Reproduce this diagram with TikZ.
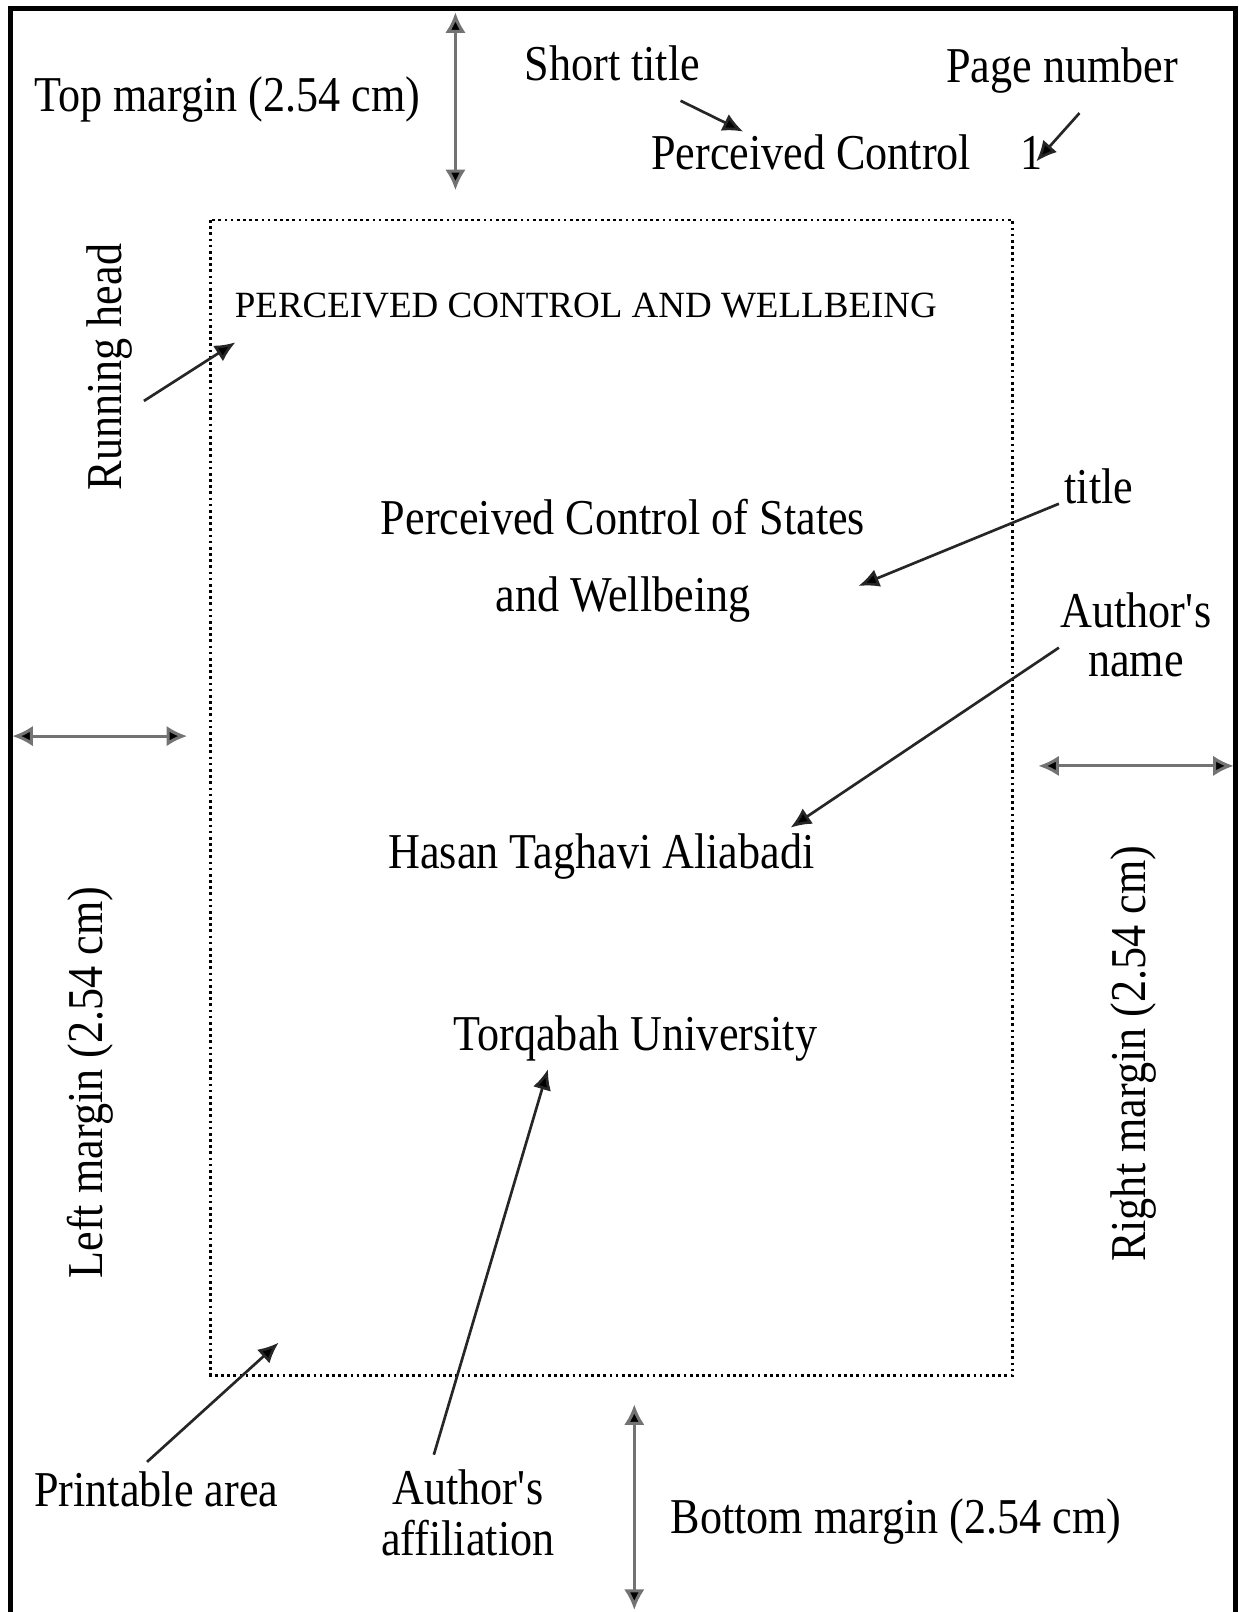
\documentclass[tikz,border=0pt]{standalone}
\usepackage{fontspec}
\setmainfont{Liberation Serif}[FakeStretch=0.88]
\newfontfamily\capsserif{Liberation Serif}
\usetikzlibrary{arrows.meta}
\begin{document}
\begin{tikzpicture}[x=0.5pt,y=-0.5pt,
  lbl/.style={font=\fontsize{24.4}{28}\selectfont, inner sep=0pt, anchor=base west},
  caps/.style={font=\capsserif\fontsize{18}{22}\selectfont, inner sep=0pt, anchor=base west},
  vlbl/.style={font=\fontsize{24.4}{28}\selectfont, inner sep=0pt, rotate=90, anchor=center},
  pointer/.style={line width=1.3pt, draw=black!85, -{Latex[length=10pt,width=9pt,fill=black]}},
  span/.style={line width=1.5pt, draw=black!55, {Latex[length=10pt,width=10pt,fill=black]}-{Latex[length=10pt,width=10pt,fill=black]}},
  frame/.style={line width=2.6pt},
  area/.style={line width=1.3pt, dash pattern=on 1.3pt off 1.7pt}]
\useasboundingbox (0,0) rectangle (1205,1568);

% page edge (open at the bottom)
\draw[frame] (10,1570) -- (10,8) -- (1202,8) -- (1202,1570);

% printable area
\draw[area] (205,214) rectangle (985,1338);

% margin labels
\node[lbl] (topm) at (33,108) {Top margin (2.54 cm)};
\node[lbl] (botm) at (652,1492) {Bottom margin (2.54 cm)};
\node[vlbl] (leftm) at (88,1053) {Left margin (2.54 cm)};
\node[vlbl] (rightm) at (1103,1025) {Right margin (2.54 cm)};

% header labels
\node[lbl] (shortlbl) at (510,78) {Short title};
\node[lbl] (pagelbl) at (920,80) {Page number};
\node[lbl] (shorttitle) at (633,165) {Perceived Control};
\node[lbl] (pagenum) at (992,165) {1};
\node[vlbl] (runlbl) at (107,357) {Running head};

% title page content
\node[caps] (runhead) at (228,309) {PERCEIVED CONTROL AND WELLBEING};
\node[lbl, anchor=base] (title1) at (606,520) {Perceived Control of States};
\node[lbl, anchor=base] (title2) at (606,595) {and Wellbeing};
\node[lbl, anchor=base] (author) at (585,845) {Hasan Taghavi Aliabadi};
\node[lbl, anchor=base] (affil) at (618,1022) {Torqabah University};

% right-hand and bottom labels
\node[lbl] (titlelbl) at (1035,490) {title};
\node[lbl, anchor=base] (authlbl1) at (1105,610) {Author\textquotesingle s};
\node[lbl, anchor=base] (authlbl2) at (1105,658) {name};
\node[lbl] (printlbl) at (33,1465) {Printable area};
\node[lbl, anchor=base] (afflbl1) at (455,1463) {Author\textquotesingle s};
\node[lbl, anchor=base] (afflbl2) at (455,1513) {affiliation};

% pointer ends
\coordinate (shortA) at (662,98);   \coordinate (shortB) at (723,128);
\coordinate (pageA) at (1050,110);  \coordinate (pageB) at (1008,157);
\coordinate (runA) at (140,390);    \coordinate (runB) at (229,333);
\coordinate (titleA) at (1030,490); \coordinate (titleB) at (835,570);
\coordinate (authA) at (1030,630);  \coordinate (authB) at (769,805);
\coordinate (printA) at (143,1422); \coordinate (printB) at (271,1306);
\coordinate (affA) at (422,1415);   \coordinate (affB) at (533,1040);

\draw[pointer] (shortA) -- (shortB);
\draw[pointer] (pageA) -- (pageB);
\draw[pointer] (runA) -- (runB);
\draw[pointer] (titleA) -- (titleB);
\draw[pointer] (authA) -- (authB);
\draw[pointer] (printA) -- (printB);
\draw[pointer] (affA) -- (affB);

% margin extents
\coordinate (topA) at (443,12);    \coordinate (topB) at (443,185);
\coordinate (leftA) at (12,716);   \coordinate (leftB) at (182,716);
\coordinate (rightA) at (1010,745); \coordinate (rightB) at (1200,745);
\coordinate (botA) at (617,1366);  \coordinate (botB) at (617,1566);

\draw[span] (topA) -- (topB);
\draw[span] (leftA) -- (leftB);
\draw[span] (rightA) -- (rightB);
\draw[span] (botA) -- (botB);
\end{tikzpicture}
\end{document}
